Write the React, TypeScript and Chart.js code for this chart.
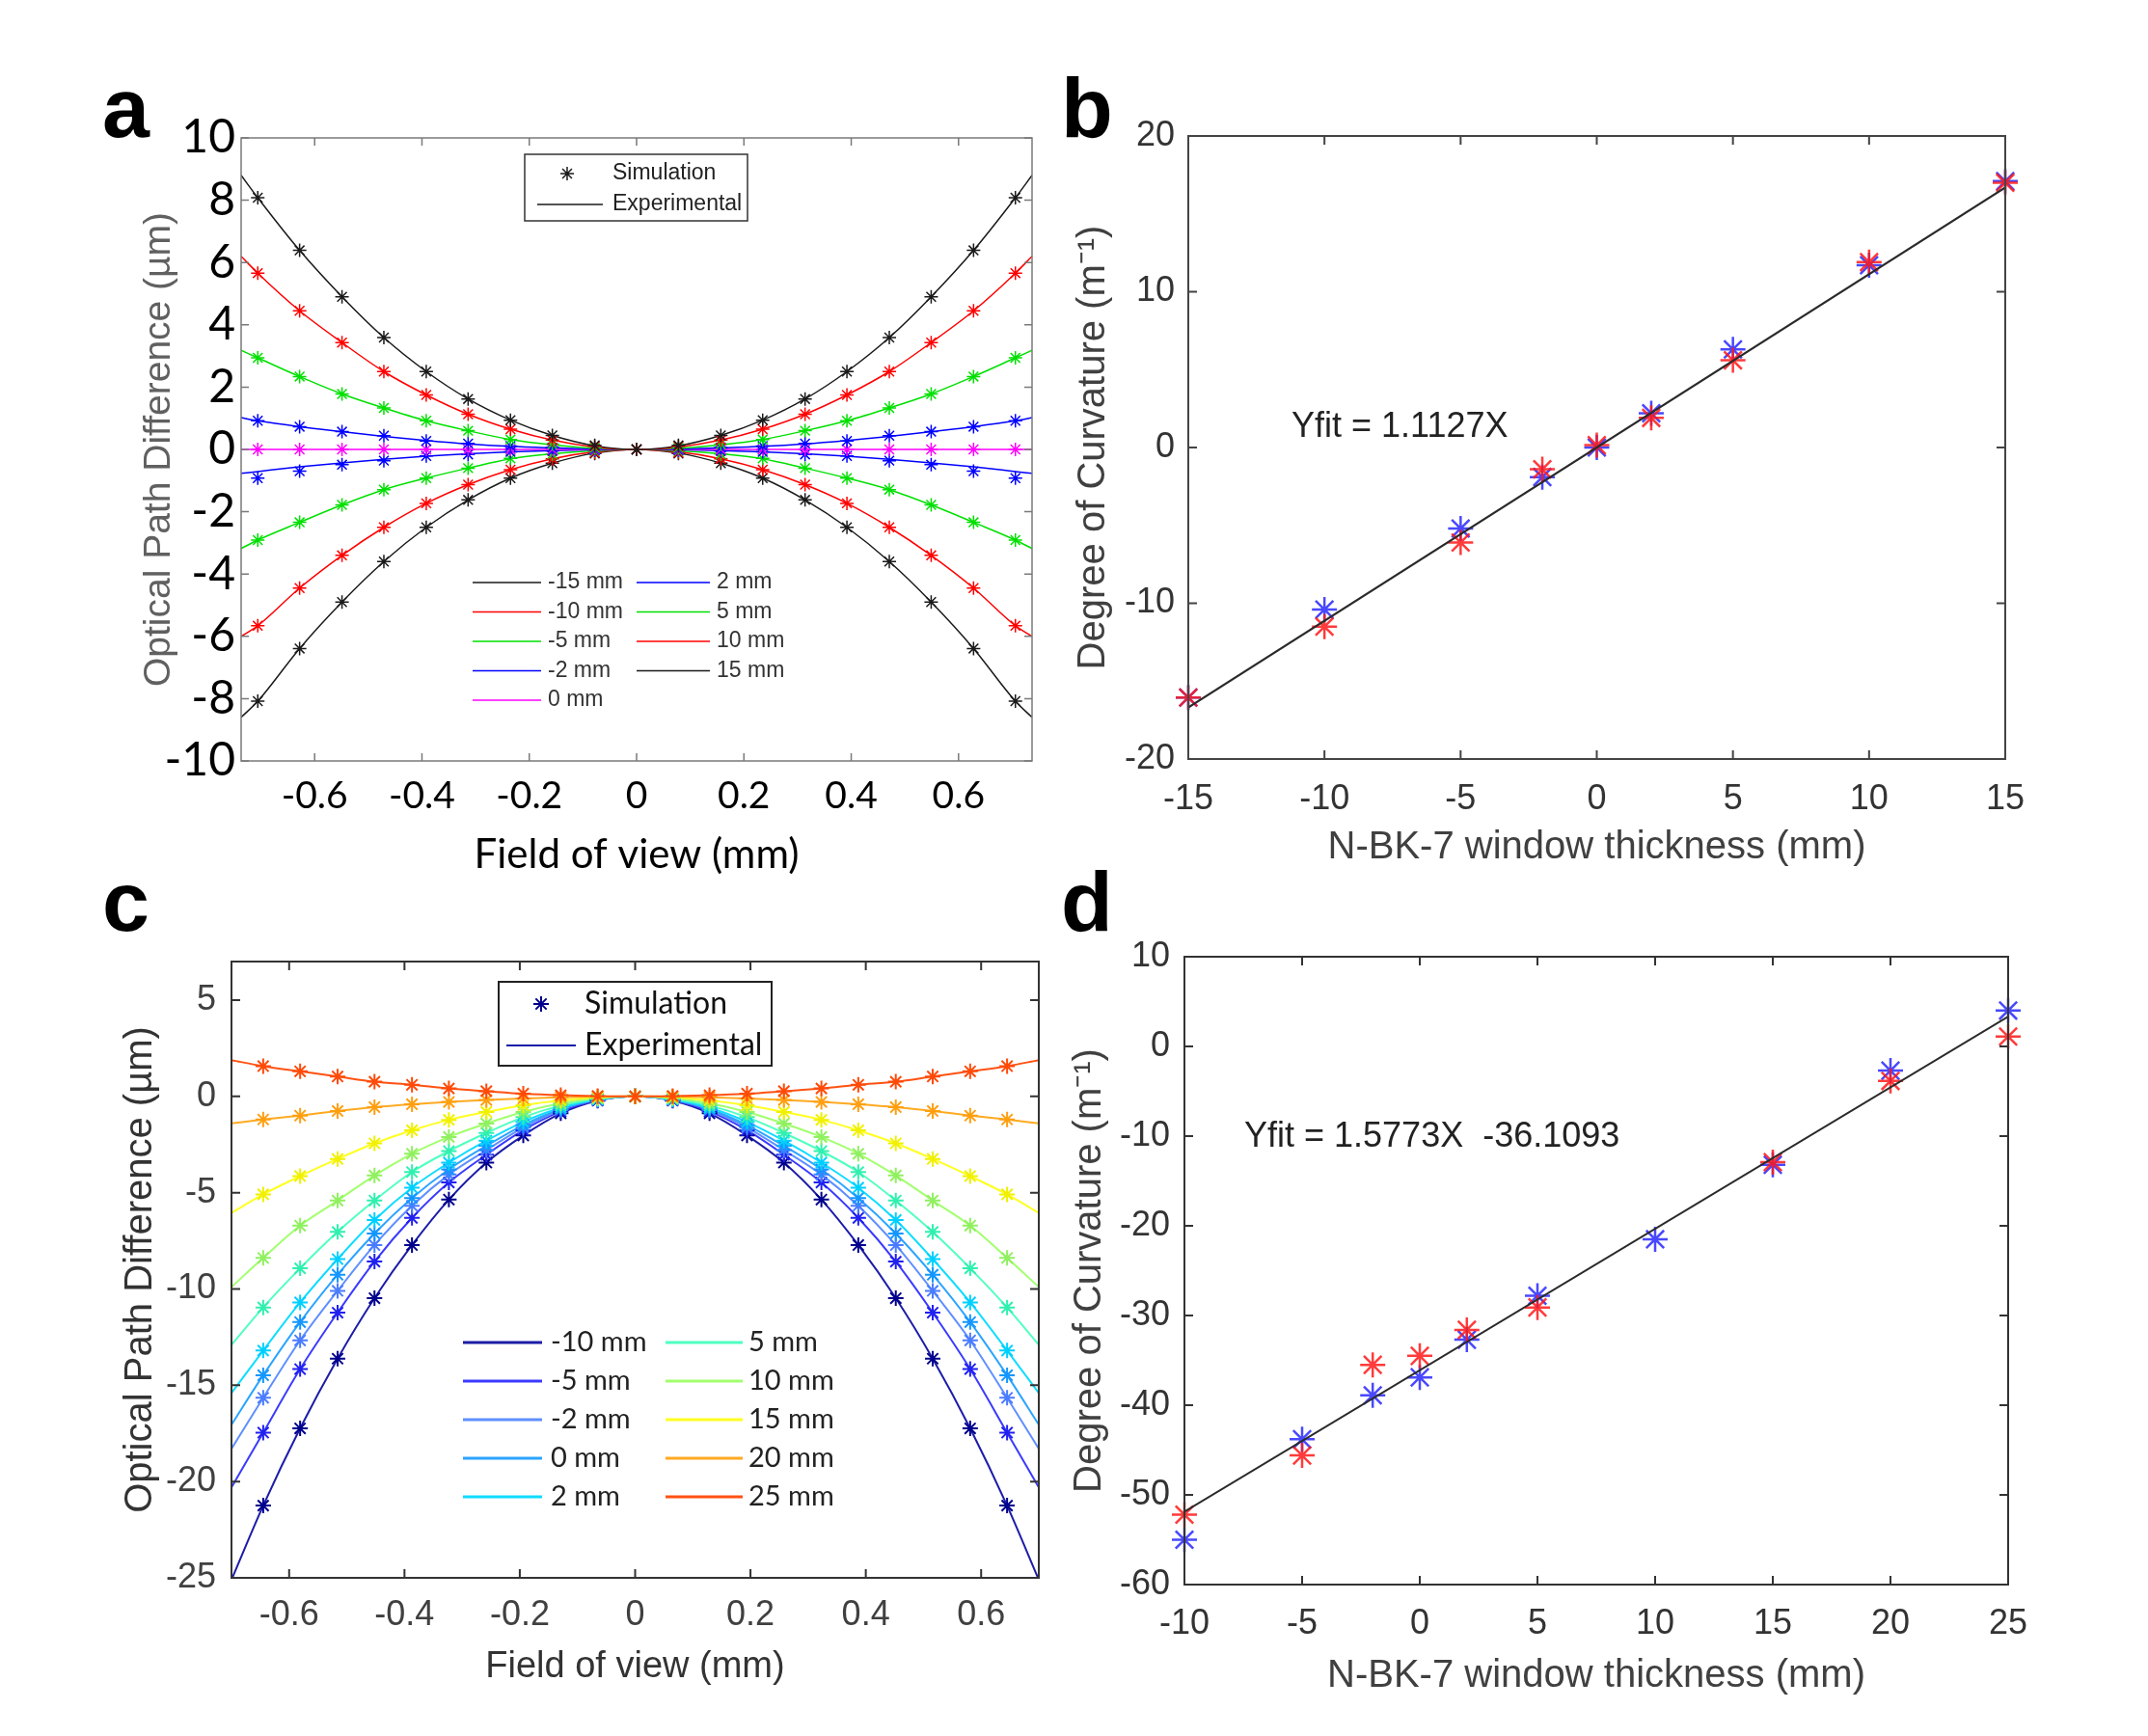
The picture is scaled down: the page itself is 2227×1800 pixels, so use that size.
import React, { useEffect, useRef } from "react";
import { Chart, registerables } from "chart.js";

Chart.register(...registerables);

const SANS = '"Liberation Sans", Arial, sans-serif';
const CAL = 'Lato, "Liberation Sans", sans-serif';

// ---------------- Panel a ----------------
const aSimX = [-0.706, -0.628, -0.549, -0.471, -0.392, -0.314, -0.235, -0.157, -0.078, 0, 0.078, 0.157, 0.235, 0.314, 0.392, 0.471, 0.549, 0.628, 0.706];
const aExpX = [-0.737, -0.706, -0.628, -0.549, -0.471, -0.392, -0.314, -0.235, -0.157, -0.078, 0, 0.078, 0.157, 0.235, 0.314, 0.392, 0.471, 0.549, 0.628, 0.706, 0.737];

const aSimM15 = [8.08, 6.39, 4.9, 3.59, 2.5, 1.62, 0.94, 0.45, 0.13, 0, 0.13, 0.45, 0.94, 1.62, 2.5, 3.59, 4.9, 6.39, 8.08];
const aSimM10 = [5.66, 4.45, 3.43, 2.5, 1.75, 1.13, 0.65, 0.3, 0.1, 0, 0.1, 0.3, 0.65, 1.13, 1.75, 2.5, 3.43, 4.45, 5.66];
const aSimM5 = [2.94, 2.34, 1.78, 1.33, 0.92, 0.6, 0.32, 0.17, 0.05, 0, 0.05, 0.17, 0.32, 0.6, 0.92, 1.33, 1.78, 2.34, 2.94];
const aSimM2 = [0.92, 0.73, 0.57, 0.44, 0.27, 0.19, 0.11, 0.06, 0.02, 0, 0.02, 0.06, 0.11, 0.19, 0.27, 0.44, 0.57, 0.73, 0.92];
const aSimZ = [0, 0, 0, 0, 0, 0, 0, 0, 0, 0, 0, 0, 0, 0, 0, 0, 0, 0, 0];
const aSimP2 = [-0.92, -0.7, -0.49, -0.36, -0.21, -0.16, -0.08, -0.05, -0.02, 0, -0.02, -0.05, -0.08, -0.16, -0.21, -0.36, -0.49, -0.7, -0.92];
const aSimP5 = [-2.91, -2.34, -1.78, -1.29, -0.92, -0.6, -0.29, -0.15, -0.05, 0, -0.05, -0.15, -0.29, -0.6, -0.92, -1.29, -1.78, -2.34, -2.91];
const aSimP10 = [-5.66, -4.45, -3.4, -2.5, -1.73, -1.13, -0.65, -0.3, -0.1, 0, -0.1, -0.3, -0.65, -1.13, -1.73, -2.5, -3.4, -4.45, -5.66];
const aSimP15 = [-8.08, -6.39, -4.9, -3.6, -2.5, -1.62, -0.92, -0.44, -0.13, 0, -0.13, -0.44, -0.92, -1.62, -2.5, -3.6, -4.9, -6.39, -8.08];

const aExpM15 = [8.8, 8.08, 6.39, 4.9, 3.59, 2.5, 1.62, 0.94, 0.45, 0.12, 0, 0.12, 0.45, 0.94, 1.62, 2.5, 3.59, 4.9, 6.39, 8.08, 8.8];
const aExpM10 = [6.2, 5.66, 4.45, 3.43, 2.5, 1.75, 1.13, 0.65, 0.3, 0.08, 0, 0.08, 0.3, 0.65, 1.13, 1.75, 2.5, 3.43, 4.45, 5.66, 6.2];
const aExpM5 = [3.18, 2.94, 2.34, 1.78, 1.33, 0.92, 0.6, 0.32, 0.15, 0.04, 0, 0.04, 0.15, 0.32, 0.6, 0.92, 1.33, 1.78, 2.34, 2.94, 3.18];
const aExpM2 = [1.02, 0.92, 0.73, 0.57, 0.42, 0.29, 0.18, 0.1, 0.05, 0.01, 0, 0.01, 0.05, 0.1, 0.18, 0.29, 0.42, 0.57, 0.73, 0.92, 1.02];
const aExpZ = [0, 0, 0, 0, 0, 0, 0, 0, 0, 0, 0, 0, 0, 0, 0, 0, 0, 0, 0, 0, 0];
const aExpP2 = [-0.77, -0.71, -0.56, -0.43, -0.32, -0.22, -0.14, -0.08, -0.04, -0.01, 0, -0.01, -0.04, -0.08, -0.14, -0.22, -0.32, -0.43, -0.56, -0.71, -0.77];
const aExpP5 = [-3.18, -2.91, -2.34, -1.78, -1.29, -0.92, -0.6, -0.3, -0.14, -0.04, 0, -0.04, -0.14, -0.3, -0.6, -0.92, -1.29, -1.78, -2.34, -2.91, -3.18];
const aExpP10 = [-6.0, -5.66, -4.45, -3.4, -2.5, -1.73, -1.13, -0.65, -0.3, -0.08, 0, -0.08, -0.3, -0.65, -1.13, -1.73, -2.5, -3.4, -4.45, -5.66, -6.0];
const aExpP15 = [-8.6, -8.08, -6.39, -4.9, -3.6, -2.5, -1.62, -0.92, -0.44, -0.12, 0, -0.12, -0.44, -0.92, -1.62, -2.5, -3.6, -4.9, -6.39, -8.08, -8.6];

const aLabels = ["-15 mm", "-10 mm", "-5 mm", "-2 mm", "0 mm", "2 mm", "5 mm", "10 mm", "15 mm"];
const aColors = ["#1a1a1a", "#ff0000", "#00e000", "#0000ff", "#ff00ff", "#0000ff", "#00e000", "#ff0000", "#1a1a1a"];
const aSimSeries = [aSimM15, aSimM10, aSimM5, aSimM2, aSimZ, aSimP2, aSimP5, aSimP10, aSimP15];
const aExpSeries = [aExpM15, aExpM10, aExpM5, aExpM2, aExpZ, aExpP2, aExpP5, aExpP10, aExpP15];
const aXTicks = [-0.6, -0.4, -0.2, 0, 0.2, 0.4, 0.6];
const aXTickLabels = ["-0.6", "-0.4", "-0.2", "0", "0.2", "0.4", "0.6"];
const aYTicks = [-10, -8, -6, -4, -2, 0, 2, 4, 6, 8, 10];
const aYTickLabels = ["-10", "-8", "-6", "-4", "-2", "0", "2", "4", "6", "8", "10"];

// ---------------- Panel b ----------------
const bX = [-15, -10, -5, -2, 0, 2, 5, 10, 15];
const bBlue = [-16.05, -10.4, -5.2, -1.9, 0, 2.2, 6.3, 11.7, 17.1];
const bRed = [-16.05, -11.5, -6.1, -1.4, 0.15, 1.9, 5.6, 11.9, 17.0];
const bFitX = [-15, 15];
const bFitY = [-16.69, 16.69];
const bXTicks = [-15, -10, -5, 0, 5, 10, 15];
const bXTickLabels = ["-15", "-10", "-5", "0", "5", "10", "15"];
const bYTicks = [-20, -10, 0, 10, 20];
const bYTickLabels = ["-20", "-10", "0", "10", "20"];

// ---------------- Panel c ----------------
const cSimX = [-0.645, -0.581, -0.516, -0.452, -0.387, -0.323, -0.258, -0.194, -0.129, -0.065, 0, 0.065, 0.129, 0.194, 0.258, 0.323, 0.387, 0.452, 0.516, 0.581, 0.645];
const cExpX = [-0.7, -0.645, -0.581, -0.516, -0.452, -0.387, -0.323, -0.258, -0.194, -0.129, -0.065, 0, 0.065, 0.129, 0.194, 0.258, 0.323, 0.387, 0.452, 0.516, 0.581, 0.645, 0.7];

const cSimM10 = [-21.25, -17.24, -13.62, -10.48, -7.72, -5.36, -3.44, -2.03, -0.88, -0.22, 0, -0.22, -0.88, -2.03, -3.44, -5.36, -7.72, -10.48, -13.62, -17.24, -21.25];
const cSimM5 = [-17.46, -14.16, -11.23, -8.58, -6.31, -4.47, -3.03, -1.76, -0.78, -0.2, 0, -0.2, -0.78, -1.76, -3.03, -4.47, -6.31, -8.58, -11.23, -14.16, -17.46];
const cSimM2 = [-15.65, -12.67, -10.1, -7.72, -5.68, -4.06, -2.79, -1.62, -0.7, -0.18, 0, -0.18, -0.7, -1.62, -2.79, -4.06, -5.68, -7.72, -10.1, -12.67, -15.65];
const cSimZ = [-14.48, -11.72, -9.26, -7.12, -5.28, -3.79, -2.57, -1.49, -0.66, -0.16, 0, -0.16, -0.66, -1.49, -2.57, -3.79, -5.28, -7.12, -9.26, -11.72, -14.48];
const cSimP2 = [-13.2, -10.7, -8.45, -6.42, -4.74, -3.44, -2.3, -1.33, -0.59, -0.15, 0, -0.15, -0.59, -1.33, -2.3, -3.44, -4.74, -6.42, -8.45, -10.7, -13.2];
const cSimP5 = [-10.96, -8.93, -7.04, -5.41, -3.93, -2.84, -1.9, -1.08, -0.48, -0.12, 0, -0.12, -0.48, -1.08, -1.9, -2.84, -3.93, -5.41, -7.04, -8.93, -10.96];
const cSimP10 = [-8.39, -6.71, -5.41, -4.11, -2.98, -2.11, -1.41, -0.81, -0.36, -0.09, 0, -0.09, -0.36, -0.81, -1.41, -2.11, -2.98, -4.11, -5.41, -6.71, -8.39];
const cSimP15 = [-5.09, -4.14, -3.25, -2.44, -1.76, -1.22, -0.81, -0.46, -0.21, -0.05, 0, -0.05, -0.21, -0.46, -0.81, -1.22, -1.76, -2.44, -3.25, -4.14, -5.09];
const cSimP20 = [-1.2, -1.0, -0.76, -0.56, -0.41, -0.29, -0.19, -0.11, -0.05, -0.01, 0, -0.01, -0.05, -0.11, -0.19, -0.29, -0.41, -0.56, -0.76, -1.0, -1.2];
const cSimP25 = [1.57, 1.3, 1.03, 0.76, 0.6, 0.41, 0.27, 0.14, 0.06, 0.02, 0, 0.02, 0.06, 0.14, 0.27, 0.41, 0.6, 0.76, 1.03, 1.3, 1.57];

const cExpM10 = [-25.1, -21.25, -17.24, -13.62, -10.48, -7.72, -5.36, -3.44, -2.03, -0.88, -0.22, 0, -0.22, -0.88, -2.03, -3.44, -5.36, -7.72, -10.48, -13.62, -17.24, -21.25, -25.1];
const cExpM5 = [-20.3, -17.46, -14.16, -11.23, -8.58, -6.31, -4.47, -3.03, -1.76, -0.78, -0.2, 0, -0.2, -0.78, -1.76, -3.03, -4.47, -6.31, -8.58, -11.23, -14.16, -17.46, -20.3];
const cExpM2 = [-18.3, -15.65, -12.67, -10.1, -7.72, -5.68, -4.06, -2.79, -1.62, -0.7, -0.18, 0, -0.18, -0.7, -1.62, -2.79, -4.06, -5.68, -7.72, -10.1, -12.67, -15.65, -18.3];
const cExpZ = [-17.05, -14.48, -11.72, -9.26, -7.12, -5.28, -3.79, -2.57, -1.49, -0.66, -0.16, 0, -0.16, -0.66, -1.49, -2.57, -3.79, -5.28, -7.12, -9.26, -11.72, -14.48, -17.05];
const cExpP2 = [-15.4, -13.2, -10.7, -8.45, -6.42, -4.74, -3.44, -2.3, -1.33, -0.59, -0.15, 0, -0.15, -0.59, -1.33, -2.3, -3.44, -4.74, -6.42, -8.45, -10.7, -13.2, -15.4];
const cExpP5 = [-12.9, -10.96, -8.93, -7.04, -5.41, -3.93, -2.84, -1.9, -1.08, -0.48, -0.12, 0, -0.12, -0.48, -1.08, -1.9, -2.84, -3.93, -5.41, -7.04, -8.93, -10.96, -12.9];
const cExpP10 = [-9.9, -8.39, -6.71, -5.41, -4.11, -2.98, -2.11, -1.41, -0.81, -0.36, -0.09, 0, -0.09, -0.36, -0.81, -1.41, -2.11, -2.98, -4.11, -5.41, -6.71, -8.39, -9.9];
const cExpP15 = [-6.05, -5.09, -4.14, -3.25, -2.44, -1.76, -1.22, -0.81, -0.46, -0.21, -0.05, 0, -0.05, -0.21, -0.46, -0.81, -1.22, -1.76, -2.44, -3.25, -4.14, -5.09, -6.05];
const cExpP20 = [-1.4, -1.2, -1.0, -0.76, -0.56, -0.41, -0.29, -0.19, -0.11, -0.05, -0.01, 0, -0.01, -0.05, -0.11, -0.19, -0.29, -0.41, -0.56, -0.76, -1.0, -1.2, -1.4];
const cExpP25 = [1.88, 1.57, 1.3, 1.03, 0.76, 0.6, 0.41, 0.27, 0.14, 0.06, 0.02, 0, 0.02, 0.06, 0.14, 0.27, 0.41, 0.6, 0.76, 1.03, 1.3, 1.57, 1.88];

const cLabels = ["-10 mm", "-5 mm", "-2 mm", "0 mm", "2 mm", "5 mm", "10 mm", "15 mm", "20 mm", "25 mm"];
const cColors = ["#1c1ca8", "#3a3aff", "#5f8fff", "#2ca4ff", "#10dcff", "#50ffc0", "#a2ff6e", "#ffff22", "#ffaa22", "#ff5212"];
const cMarkerColors = ["#00008c", "#2020f0", "#4a7cff", "#1496ff", "#00d0ff", "#30f0b0", "#90f060", "#f0f000", "#ff9f10", "#ff4a08"];
const cSimSeries = [cSimM10, cSimM5, cSimM2, cSimZ, cSimP2, cSimP5, cSimP10, cSimP15, cSimP20, cSimP25];
const cExpSeries = [cExpM10, cExpM5, cExpM2, cExpZ, cExpP2, cExpP5, cExpP10, cExpP15, cExpP20, cExpP25];
const cXTicks = [-0.6, -0.4, -0.2, 0, 0.2, 0.4, 0.6];
const cXTickLabels = ["-0.6", "-0.4", "-0.2", "0", "0.2", "0.4", "0.6"];
const cYTicks = [-25, -20, -15, -10, -5, 0, 5];
const cYTickLabels = ["-25", "-20", "-15", "-10", "-5", "0", "5"];

// ---------------- Panel d ----------------
const dX = [-10, -5, -2, 0, 2, 5, 10, 15, 20, 25];
const dBlue = [-55.0, -43.8, -38.9, -36.9, -32.7, -27.8, -21.5, -13.2, -2.7, 4.0];
const dRed = [-52.2, -45.6, -35.5, -34.5, -31.6, -29.1, null, -12.9, -3.85, 1.1];
const dFitX = [-10, 25];
const dFitY = [-51.88, 3.32];
const dXTicks = [-10, -5, 0, 5, 10, 15, 20, 25];
const dXTickLabels = ["-10", "-5", "0", "5", "10", "15", "20", "25"];
const dYTicks = [-60, -50, -40, -30, -20, -10, 0, 10];
const dYTickLabels = ["-60", "-50", "-40", "-30", "-20", "-10", "0", "10"];

// ---------------- helpers ----------------
type Item =
  | { kind: "rect"; x: number; y: number; w: number; h: number; stroke: string; lw: number }
  | { kind: "line"; x1: number; x2: number; y: number; color: string; lw: number }
  | { kind: "star"; x: number; y: number; r: number; color: string; lw: number }
  | { kind: "text"; x: number; y: number; text: string; font: string; color: string };

function pts(xs: number[], ys: (number | null)[]) {
  const out: { x: number; y: number }[] = [];
  xs.forEach((x, i) => {
    const y = ys[i];
    if (y !== null && y !== undefined) out.push({ x, y });
  });
  return out;
}

function drawStar(ctx: CanvasRenderingContext2D, x: number, y: number, r: number) {
  const d = r * Math.SQRT1_2;
  ctx.beginPath();
  ctx.moveTo(x - r, y); ctx.lineTo(x + r, y);
  ctx.moveTo(x, y - r); ctx.lineTo(x, y + r);
  ctx.moveTo(x - d, y - d); ctx.lineTo(x + d, y + d);
  ctx.moveTo(x - d, y + d); ctx.lineTo(x + d, y - d);
  ctx.stroke();
}

function makeDecor(frameColor: string, frameWidth: number, tickLen: number, items: Item[]) {
  return {
    id: "decor",
    afterDraw(chart: any) {
      const ctx: CanvasRenderingContext2D = chart.ctx;
      const ca = chart.chartArea;
      const xs = chart.scales.x;
      const ys = chart.scales.y;
      ctx.save();
      ctx.strokeStyle = frameColor;
      ctx.lineWidth = frameWidth;
      ctx.strokeRect(ca.left, ca.top, ca.right - ca.left, ca.bottom - ca.top);
      ctx.beginPath();
      for (const t of xs.ticks) {
        const px = xs.getPixelForValue(t.value);
        ctx.moveTo(px, ca.bottom); ctx.lineTo(px, ca.bottom - tickLen);
        ctx.moveTo(px, ca.top); ctx.lineTo(px, ca.top + tickLen);
      }
      for (const t of ys.ticks) {
        const py = ys.getPixelForValue(t.value);
        ctx.moveTo(ca.left, py); ctx.lineTo(ca.left + tickLen, py);
        ctx.moveTo(ca.right, py); ctx.lineTo(ca.right - tickLen, py);
      }
      ctx.stroke();
      for (const it of items) {
        if (it.kind === "rect") {
          ctx.fillStyle = "#ffffff";
          ctx.fillRect(ca.left + it.x, ca.top + it.y, it.w, it.h);
          ctx.strokeStyle = it.stroke;
          ctx.lineWidth = it.lw;
          ctx.strokeRect(ca.left + it.x, ca.top + it.y, it.w, it.h);
        } else if (it.kind === "line") {
          ctx.strokeStyle = it.color;
          ctx.lineWidth = it.lw;
          ctx.beginPath();
          ctx.moveTo(ca.left + it.x1, ca.top + it.y);
          ctx.lineTo(ca.left + it.x2, ca.top + it.y);
          ctx.stroke();
        } else if (it.kind === "star") {
          ctx.strokeStyle = it.color;
          ctx.lineWidth = it.lw;
          drawStar(ctx, ca.left + it.x, ca.top + it.y, it.r);
        } else {
          ctx.fillStyle = it.color;
          ctx.font = it.font;
          ctx.textAlign = "left";
          ctx.textBaseline = "middle";
          ctx.fillText(it.text, ca.left + it.x, ca.top + it.y);
        }
      }
      ctx.restore();
    },
  };
}

type Rect = { l: number; t: number; w: number; h: number };
type Plot = { l: number; t: number; r: number; b: number };

type PanelSpec = {
  canvas: Rect;
  plot: Plot;
  xMin: number; xMax: number; yMin: number; yMax: number;
  xTicks: number[]; xTickLabels: string[];
  yTicks: number[]; yTickLabels: string[];
  xTickFont: any; yTickFont: any; tickColor: string;
  xTickPad: number; yTickPad: number;
  xTitle: string; yTitle: string;
  xTitleFont: any; yTitleFont: any; xTitleColor: string; yTitleColor: string;
  datasets: any[];
  frameColor: string; frameWidth: number; tickLen: number;
  items: Item[];
};

function buildConfig(s: PanelSpec): any {
  const yWidth = s.plot.l - s.canvas.l;
  const xHeight = s.canvas.t + s.canvas.h - s.plot.b;
  return {
    type: "scatter",
    data: { datasets: s.datasets },
    plugins: [makeDecor(s.frameColor, s.frameWidth, s.tickLen, s.items)],
    options: {
      responsive: false,
      maintainAspectRatio: false,
      animation: false,
      devicePixelRatio: 1,
      events: [],
      layout: {
        padding: {
          left: 0,
          top: s.plot.t - s.canvas.t,
          right: s.canvas.l + s.canvas.w - s.plot.r,
          bottom: 0,
        },
      },
      plugins: { legend: { display: false }, tooltip: { enabled: false }, title: { display: false } },
      scales: {
        x: {
          type: "linear",
          min: s.xMin,
          max: s.xMax,
          afterBuildTicks: (sc: any) => { sc.ticks = s.xTicks.map((v) => ({ value: v })); },
          afterFit: (sc: any) => { sc.height = xHeight; },
          grid: { display: false, drawTicks: false },
          border: { display: false },
          ticks: {
            autoSkip: false,
            maxRotation: 0,
            padding: s.xTickPad,
            font: s.xTickFont,
            color: s.tickColor,
            callback: (_v: any, i: number) => s.xTickLabels[i],
          },
          title: { display: true, text: s.xTitle, font: s.xTitleFont, color: s.xTitleColor, padding: { top: 0, bottom: 0 } },
        },
        y: {
          type: "linear",
          min: s.yMin,
          max: s.yMax,
          afterBuildTicks: (sc: any) => { sc.ticks = s.yTicks.map((v) => ({ value: v })); },
          afterFit: (sc: any) => { sc.width = yWidth; },
          grid: { display: false, drawTicks: false },
          border: { display: false },
          ticks: {
            autoSkip: false,
            padding: s.yTickPad,
            font: s.yTickFont,
            color: s.tickColor,
            callback: (_v: any, i: number) => s.yTickLabels[i],
          },
          title: { display: true, text: s.yTitle, font: s.yTitleFont, color: s.yTitleColor, padding: { top: 0, bottom: 0 } },
        },
      },
    },
  };
}

function markerDs(data: any[], color: string, r: number, lw: number) {
  return {
    data,
    showLine: false,
    pointStyle: "star",
    pointRadius: r,
    pointBorderWidth: lw,
    pointBorderColor: color,
    pointBackgroundColor: color,
    clip: false,
  };
}

function lineDs(data: any[], color: string, lw: number, smooth: boolean) {
  return {
    data,
    showLine: true,
    borderColor: color,
    borderWidth: lw,
    pointRadius: 0,
    fill: false,
    cubicInterpolationMode: smooth ? "monotone" : "default",
    tension: 0,
  };
}

// ---------------- panel specs ----------------
const aLegendItems: Item[] = [
  { kind: "rect", x: 294, y: 17, w: 231, h: 69, stroke: "#333333", lw: 1.5 },
  { kind: "star", x: 338, y: 37, r: 7, color: "#1a1a1a", lw: 1.5 },
  { kind: "text", x: 385, y: 37, text: "Simulation", font: `23px ${SANS}`, color: "#222222" },
  { kind: "line", x1: 307, x2: 375, y: 69, color: "#1a1a1a", lw: 1.3 },
  { kind: "text", x: 385, y: 69, text: "Experimental", font: `23px ${SANS}`, color: "#222222" },
  ...aLabels.map((lab, i): Item[] => {
    const col = i < 5 ? 0 : 1;
    const row = i < 5 ? i : i - 5;
    const y = 461 + row * 30.5;
    const x1 = col === 0 ? 240 : 410;
    const x2 = col === 0 ? 311 : 486;
    const tx = col === 0 ? 318 : 493;
    return [
      { kind: "line", x1, x2, y, color: aColors[i], lw: 1.5 },
      { kind: "text", x: tx, y, text: lab, font: `23px ${SANS}`, color: "#333333" },
    ];
  }).flat(),
];

const cLegendItems: Item[] = [
  { kind: "rect", x: 277, y: 21, w: 283, h: 87, stroke: "#222222", lw: 2 },
  { kind: "star", x: 321, y: 44, r: 8, color: "#00008c", lw: 2 },
  { kind: "text", x: 366, y: 44, text: "Simulation", font: `32px ${CAL}`, color: "#111111" },
  { kind: "line", x1: 285, x2: 357, y: 87, color: "#1c1ca8", lw: 2 },
  { kind: "text", x: 366, y: 87, text: "Experimental", font: `32px ${CAL}`, color: "#111111" },
  ...cLabels.map((lab, i): Item[] => {
    const col = i < 5 ? 0 : 1;
    const row = i < 5 ? i : i - 5;
    const y = 395 + row * 40;
    const x1 = col === 0 ? 240 : 450;
    const x2 = col === 0 ? 322 : 530;
    const tx = col === 0 ? 331 : 536;
    return [
      { kind: "line", x1, x2, y, color: cColors[i], lw: 3 },
      { kind: "text", x: tx, y, text: lab, font: `29px ${CAL}`, color: "#222222" },
    ];
  }).flat(),
];

const aDatasets = [
  ...aSimSeries.map((ys, i) => markerDs(pts(aSimX, ys), aColors[i], 7, 1.5)),
  ...aExpSeries.map((ys, i) => lineDs(pts(aExpX, ys), aColors[i], 1.5, true)),
];

const cDatasets = [
  ...cSimSeries.map((ys, i) => markerDs(pts(cSimX, ys), cMarkerColors[i], 8, 2)).reverse(),
  ...cExpSeries.map((ys, i) => lineDs(pts(cExpX, ys), cColors[i], 2, true)).reverse(),
];

const bDatasets = [
  lineDs(pts(bFitX, bFitY), "#2a2a2a", 2, false),
  markerDs(pts(bX, bRed), "rgba(255,25,25,0.85)", 13, 2.5),
  markerDs(pts(bX, bBlue), "rgba(40,40,255,0.85)", 13, 2.5),
];

const dDatasets = [
  lineDs(pts(dFitX, dFitY), "#2a2a2a", 2, false),
  markerDs(pts(dX, dRed), "rgba(255,25,25,0.85)", 13, 2.5),
  markerDs(pts(dX, dBlue), "rgba(40,40,255,0.85)", 13, 2.5),
];

const panelA: PanelSpec = {
  canvas: { l: 142, t: 90, w: 968, h: 822 },
  plot: { l: 250, t: 143, r: 1070, b: 789 },
  xMin: -0.737, xMax: 0.737, yMin: -10, yMax: 10,
  xTicks: aXTicks, xTickLabels: aXTickLabels, yTicks: aYTicks, yTickLabels: aYTickLabels,
  xTickFont: { family: CAL, size: 39 }, yTickFont: { family: CAL, size: 48 }, tickColor: "#000000",
  xTickPad: 13, yTickPad: 6,
  xTitle: "Field of view (mm)", yTitle: "Optical Path Difference (µm)",
  xTitleFont: { family: CAL, size: 42 }, yTitleFont: { family: SANS, size: 39 },
  xTitleColor: "#000000", yTitleColor: "#606060",
  datasets: aDatasets,
  frameColor: "#7a7a7a", frameWidth: 1.5, tickLen: 8,
  items: aLegendItems,
};

const panelB: PanelSpec = {
  canvas: { l: 1110, t: 90, w: 1020, h: 813 },
  plot: { l: 1232, t: 141, r: 2079, b: 787 },
  xMin: -15, xMax: 15, yMin: -20, yMax: 20,
  xTicks: bXTicks, xTickLabels: bXTickLabels, yTicks: bYTicks, yTickLabels: bYTickLabels,
  xTickFont: { family: SANS, size: 36 }, yTickFont: { family: SANS, size: 36 }, tickColor: "#333333",
  xTickPad: 20, yTickPad: 14,
  xTitle: "N-BK-7 window thickness (mm)", yTitle: "Degree of Curvature (m⁻¹)",
  xTitleFont: { family: SANS, size: 40 }, yTitleFont: { family: SANS, size: 40 },
  xTitleColor: "#404040", yTitleColor: "#404040",
  datasets: bDatasets,
  frameColor: "#444444", frameWidth: 2, tickLen: 9,
  items: [{ kind: "text", x: 107, y: 302, text: "Yfit = 1.1127X", font: `36px ${SANS}`, color: "#222222" }],
};

const panelC: PanelSpec = {
  canvas: { l: 122, t: 955, w: 993, h: 796 },
  plot: { l: 240, t: 997, r: 1077, b: 1636 },
  xMin: -0.7, xMax: 0.7, yMin: -25, yMax: 7,
  xTicks: cXTicks, xTickLabels: cXTickLabels, yTicks: cYTicks, yTickLabels: cYTickLabels,
  xTickFont: { family: SANS, size: 36 }, yTickFont: { family: SANS, size: 36 }, tickColor: "#404040",
  xTickPad: 17, yTickPad: 16,
  xTitle: "Field of view (mm)", yTitle: "Optical Path Difference (µm)",
  xTitleFont: { family: SANS, size: 38 }, yTitleFont: { family: SANS, size: 40 },
  xTitleColor: "#333333", yTitleColor: "#333333",
  datasets: cDatasets,
  frameColor: "#333333", frameWidth: 2, tickLen: 9,
  items: cLegendItems,
};

const panelD: PanelSpec = {
  canvas: { l: 1106, t: 950, w: 1024, h: 812 },
  plot: { l: 1228, t: 992, r: 2082, b: 1643 },
  xMin: -10, xMax: 25, yMin: -60, yMax: 10,
  xTicks: dXTicks, xTickLabels: dXTickLabels, yTicks: dYTicks, yTickLabels: dYTickLabels,
  xTickFont: { family: SANS, size: 36 }, yTickFont: { family: SANS, size: 36 }, tickColor: "#333333",
  xTickPad: 19, yTickPad: 15,
  xTitle: "N-BK-7 window thickness (mm)", yTitle: "Degree of Curvature (m⁻¹)",
  xTitleFont: { family: SANS, size: 40 }, yTitleFont: { family: SANS, size: 40 },
  xTitleColor: "#404040", yTitleColor: "#404040",
  datasets: dDatasets,
  frameColor: "#333333", frameWidth: 2, tickLen: 9,
  items: [{ kind: "text", x: 62, y: 187, text: "Yfit = 1.5773X  -36.1093", font: `36px ${SANS}`, color: "#222222" }],
};

const panels = [panelA, panelB, panelC, panelD];

const panelLetters = [
  { text: "a", left: 106, top: 68 },
  { text: "b", left: 1100, top: 68 },
  { text: "c", left: 106, top: 891 },
  { text: "d", left: 1100, top: 891 },
];

function Panel({ spec }: { spec: PanelSpec }) {
  const ref = useRef<HTMLCanvasElement>(null);
  useEffect(() => {
    if (!ref.current) return;
    const chart = new Chart(ref.current, buildConfig(spec));
    return () => chart.destroy();
  }, [spec]);
  const c = spec.canvas;
  return (
    <canvas
      ref={ref}
      width={c.w}
      height={c.h}
      style={{ position: "absolute", left: c.l, top: c.t, width: c.w, height: c.h }}
    />
  );
}

export default function App() {
  return (
    <div style={{ position: "absolute", left: 0, top: 0, width: 2227, height: 1800, background: "#ffffff", overflow: "hidden" }}>
      {panels.map((p, i) => (
        <Panel key={i} spec={p} />
      ))}
      {panelLetters.map((l) => (
        <div
          key={l.text}
          style={{
            position: "absolute",
            left: l.left,
            top: l.top,
            fontFamily: SANS,
            fontWeight: "bold",
            fontSize: 88,
            lineHeight: "88px",
            color: "#000000",
          }}
        >
          {l.text}
        </div>
      ))}
    </div>
  );
}
